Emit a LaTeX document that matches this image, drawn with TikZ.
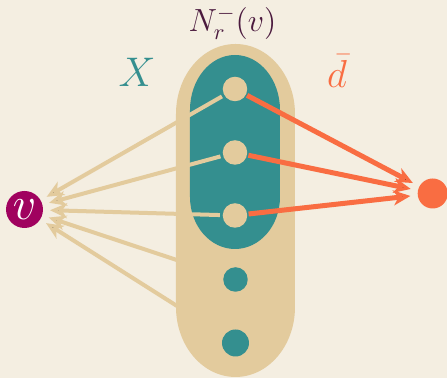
\RequirePackage{fix-cm}
\documentclass[tikz,border=0pt]{standalone}
\usepackage{amsmath}
\usepackage{tikz}
\usetikzlibrary{arrows.meta, positioning}

\definecolor{cream}{HTML}{F4EEE1}
\definecolor{sand}{HTML}{E3CB9D}
\definecolor{setteal}{HTML}{348F8F}
\definecolor{plum}{HTML}{A0025F}
\definecolor{coral}{HTML}{F96D42}
\definecolor{wine}{HTML}{4B1A3E}

\begin{document}
\begin{tikzpicture}[
            x=0.5pt, y=-0.5pt, % one unit = one pixel of the sketch
            vertex/.style={
                circle,
                inner sep=0pt,
                minimum size=12.25pt
            },
            member/.style={vertex, fill=sand},
            outside/.style={vertex, fill=setteal},
            toroot/.style={
                draw=sand,
                line width=2pt,
                shorten <=1.2pt,
                shorten >=3.3pt,
                -{Stealth[length=8.5pt, width=7.5pt, inset=2.5pt]}
            },
            tosink/.style={
                draw=coral,
                line width=2.5pt,
                shorten <=0.5pt,
                shorten >=3.5pt,
                -{Stealth[length=8.5pt, width=7.5pt, inset=2.5pt]}
            }
        ]
        \fill[cream] (0,0) rectangle (447,378);
        \useasboundingbox (0,0) rectangle (447,378);

        % the in-neighbourhood and the set X inside it
        \fill[sand] (176,114) arc[start angle=180, end angle=0, x radius=29.75pt, y radius=35pt]
            -- (295,307) arc[start angle=0, end angle=-180, x radius=29.75pt, y radius=35pt] -- cycle;
        \fill[setteal] (190,110) arc[start angle=180, end angle=0, x radius=22.5pt, y radius=27.5pt]
            -- (280,197) arc[start angle=0, end angle=-180, x radius=22.5pt, y radius=26pt] -- cycle;

        \node[member] (x1) at (235,89) {};
        \node[member] (x2) at (235,152.5) {};
        \node[member] (x3) at (235,215.5) {};
        \node[outside] (y1) at (235.5,279.5) {};
        \node[outside, minimum size=13.5pt] (y2) at (235.5,343) {};
        \node[vertex, fill=plum, minimum size=18.5pt, text=white,
              font=\fontsize{23}{23}\selectfont] (v) at (24.5,209.5) {$v$};
        \node[vertex, fill=coral, minimum size=15pt] (s) at (432.7,193.5) {};

        \node[text=wine, font=\fontsize{16}{16}\selectfont] (nlabel) at (232.5,23) {$N_r^-(v)$};
        \node[text=setteal, font=\fontsize{20.7}{20.7}\selectfont] (xlabel) at (137,72.5) {$X$};
        \node[text=coral, font=\fontsize{19.5}{19.5}\selectfont] (dlabel) at (337,71) {$\bar{d}$};

        \path[toroot]
            (x1) edge (v)
            (x2) edge (v)
            (x3) edge (v)
            (y1) edge (v)
            (y2) edge (v);
        \path[tosink]
            (x1) edge (s)
            (x2) edge (s)
            (x3) edge (s);
    \end{tikzpicture}
\end{document}
